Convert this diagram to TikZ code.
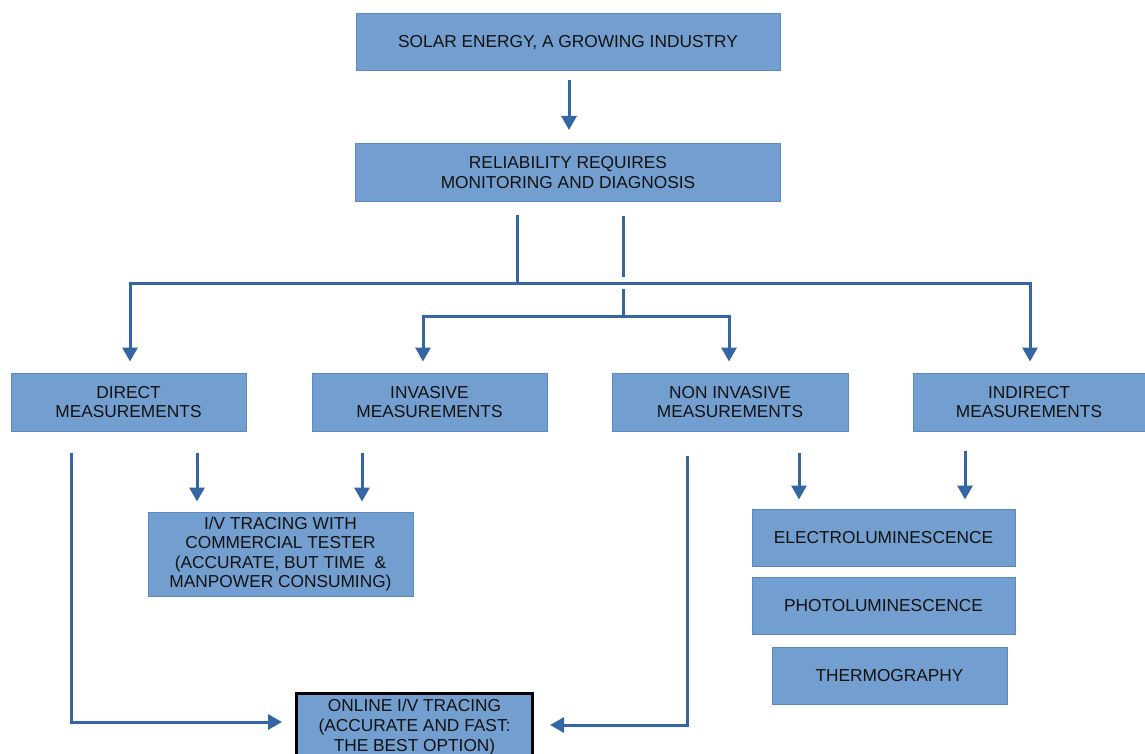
\documentclass[tikz,border=0pt]{standalone}
\usepackage{fontspec}
\setmainfont{Liberation Sans}
\usetikzlibrary{arrows.meta,calc}
\definecolor{boxfill}{HTML}{729FCF}
\definecolor{boxline}{HTML}{5A8AC6}
\definecolor{arrowc}{HTML}{3465A4}
\definecolor{txt}{HTML}{111111}
\tikzset{
  box/.style={draw=boxline, line width=1pt, fill=boxfill, align=center, inner sep=0pt,
    text=txt, font=\fontsize{17.3}{19.6}\selectfont},
  conn/.style={draw=arrowc, line width=3pt},
  arr/.style={conn, -{Triangle[width=15pt,length=14pt]}},
}
\begin{document}
\begin{tikzpicture}[x=1pt,y=-1pt]
\clip (0,0) rectangle (1145,754);
\fill[white] (0,0) rectangle (1145,754);
% nodes
\node[box, minimum width=424, minimum height=57] (top) at (568,42.5) {SOLAR ENERGY, A GROWING INDUSTRY};
\node[box, minimum width=425, minimum height=58] (rel) at (568,172.5) {RELIABILITY REQUIRES\\MONITORING AND DIAGNOSIS};
\node[box, minimum width=235, minimum height=58] (direct) at (128.5,402) {DIRECT\\MEASUREMENTS};
\node[box, minimum width=235, minimum height=58] (inv) at (429.5,402) {INVASIVE\\MEASUREMENTS};
\node[box, minimum width=236, minimum height=58] (noninv) at (730,402) {NON INVASIVE\\MEASUREMENTS};
\node[box, minimum width=232, minimum height=58] (indirect) at (1029,402) {INDIRECT\\MEASUREMENTS};
\node[box, minimum width=265, minimum height=84] (iv) at (280.5,554) {I/V TRACING WITH\\COMMERCIAL TESTER\\(ACCURATE, BUT TIME \ \&\\MANPOWER CONSUMING)};
\node[box, minimum width=263, minimum height=57] (el) at (883.5,537.5) {ELECTROLUMINESCENCE};
\node[box, minimum width=263, minimum height=57] (pl) at (883.5,605.5) {PHOTOLUMINESCENCE};
\node[box, minimum width=235, minimum height=57] (th) at (889.5,675.5) {THERMOGRAPHY};
\node[box, draw=black, line width=3pt, minimum width=236, minimum height=68] (online) at (414.5,727) {ONLINE I/V TRACING\\(ACCURATE AND FAST:\\THE BEST OPTION)};
% connectors
\draw[arr] ($(top.south)+(1,9)$) -- ($(rel.north)+(1,-13)$);
\coordinate (jl) at ($(rel.south)+(-51,81)$);
\draw[conn] ($(rel.south)+(-51,13)$) -- (jl);
\draw[arr] (jl) -| ($(direct.north)+(1.5,-11)$);
\draw[arr] (jl) -| ($(indirect.north)+(1,-11)$);
\draw[conn] ($(rel.south)+(55,14)$) -- ($(rel.south)+(55,75)$);
\coordinate (jr) at ($(rel.south)+(55,114)$);
\draw[conn] ($(rel.south)+(55,87)$) -- (jr);
\draw[arr] (jr) -| ($(inv.north)+(-6.5,-11)$);
\draw[arr] (jr) -| ($(noninv.north)+(-1,-11)$);
\draw[arr] ($(direct.south)+(68.5,21)$) -- ($(iv.north)+(-83.5,-10)$);
\draw[arr] ($(inv.south)+(-67.5,21)$) -- ($(iv.north)+(81.5,-10)$);
\draw[arr] ($(direct.south)+(-57.5,21)$) |- ($(online.west)+(-13,-5)$);
\draw[arr] ($(noninv.south)+(-43,24)$) |- ($(online.east)+(16,-2)$);
\draw[arr] ($(noninv.south)+(69,21)$) -- ($(el.north)+(-84.5,-9)$);
\draw[arr] ($(indirect.south)+(-64,19)$) -- ($(el.north)+(81.5,-9)$);
\end{tikzpicture}
\end{document}
